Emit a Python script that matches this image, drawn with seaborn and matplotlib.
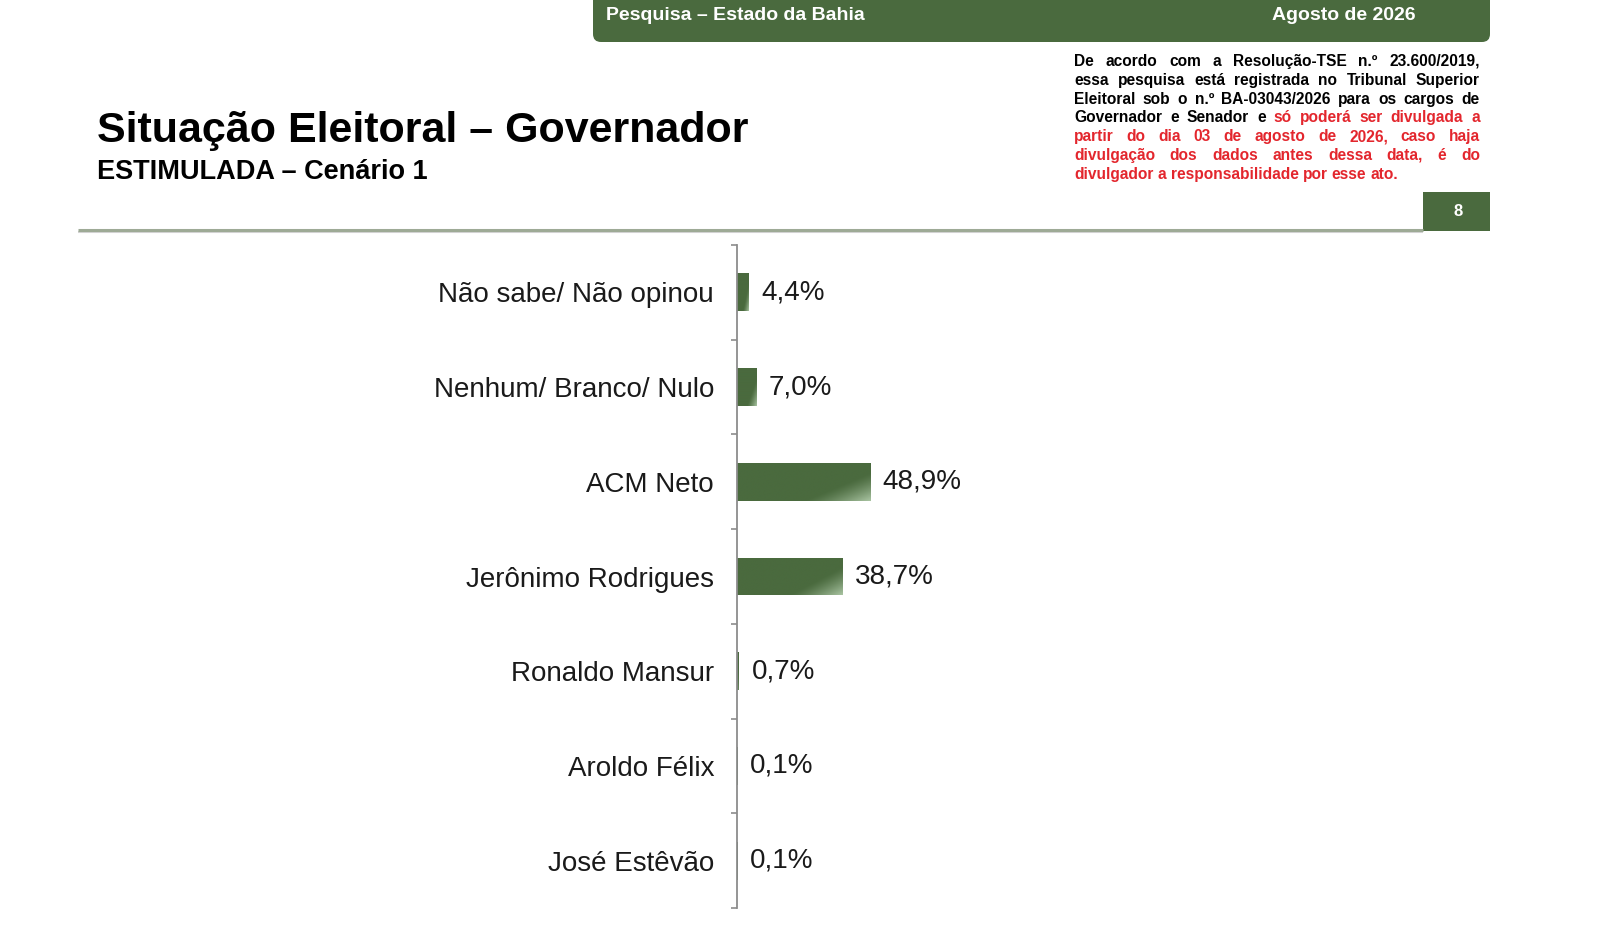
import numpy as np
import pandas as pd
import seaborn as sns
import matplotlib.pyplot as plt
from matplotlib.patches import FancyBboxPatch, Rectangle
from matplotlib.colors import LinearSegmentedColormap

# dados
categorias = ["Não sabe/ Não opinou", "Nenhum/ Branco/ Nulo", "ACM Neto",
              "Jerônimo Rodrigues", "Ronaldo Mansur", "Aroldo Félix", "José Estêvão"]
percentuais = [4.4, 7.0, 48.9, 38.7, 0.7, 0.1, 0.1]
rotulos = [f"{v:.1f}%".replace(".", ",") for v in percentuais]

titulo = "Situação Eleitoral – Governador"
subtitulo = "ESTIMULADA – Cenário 1"
cabecalho_esq = "Pesquisa – Estado da Bahia"
cabecalho_dir = "Agosto de 2026"
pagina = "8"
aviso_linhas = [
    "De acordo com a Resolução-TSE n.º 23.600/2019,",
    "essa pesquisa está registrada no Tribunal Superior",
    "Eleitoral sob o n.º BA-03043/2026 para os cargos de",
    "Governador e Senador e só poderá ser divulgada a",
    "partir do dia 03 de agosto de 2026, caso haja",
    "divulgação dos dados antes dessa data, é do",
    "divulgador a responsabilidade por esse ato.",
]
inicio_vermelho = 27  # indice da palavra "só"

VERDE = "#4a6a3e"
VERDE_CLARO = "#a9c4a2"
VERMELHO = "#e3262d"
TEXTO = "#1a1a1a"

sns.set_theme(style="white")
plt.rcParams["font.family"] = ["Liberation Sans", "DejaVu Sans"]

fig = plt.figure(figsize=(16, 9.43), dpi=100)
renderer = fig.canvas.get_renderer()

# camada de fundo em pixels
bg = fig.add_axes([0, 0, 1, 1])
bg.set_xlim(0, 1600)
bg.set_ylim(943, 0)
bg.axis("off")

# faixa do cabecalho
bg.add_patch(FancyBboxPatch((593, -20), 897, 62, boxstyle="round,pad=0,rounding_size=8",
                            fc=VERDE, ec="none"))
bg.text(606, 16, cabecalho_esq, color="white", fontsize=14, weight="bold", va="center")
bg.text(1272, 16, cabecalho_dir, color="white", fontsize=14, weight="bold", va="center")

# titulos
bg.text(97, 142, titulo, fontsize=31, weight="bold", color="black", va="baseline")
bg.text(97, 179, subtitulo, fontsize=19.5, weight="bold", color="black", va="baseline")

# linha horizontal e numero da pagina
bg.plot([78, 1423], [231.5, 231.5], color="#d4d4d4", lw=1.5, solid_capstyle="butt")
bg.plot([78, 1423], [229.5, 229.5], color="#9eaa96", lw=2.2, solid_capstyle="butt")
bg.add_patch(Rectangle((1423, 192), 67, 39, fc=VERDE, ec="none"))
bg.text(1458, 212, pagina, color="white", fontsize=12, weight="bold", ha="center", va="center")


# aviso justificado
def largura(txt, **kw):
    t = bg.text(0, 0, txt, **kw)
    w = t.get_window_extent(renderer).width
    t.remove()
    return w


kw_aviso = dict(fontsize=11.2, weight="bold")
x0, x1 = 1074, 1480
espaco = largura("a a", **kw_aviso) - 2 * largura("a", **kw_aviso)
k = 0
for i, linha in enumerate(aviso_linhas):
    palavras = linha.split()
    ws = [largura(p, **kw_aviso) for p in palavras]
    if i < len(aviso_linhas) - 1:
        gap = (x1 - x0 - sum(ws)) / (len(palavras) - 1)
    else:
        gap = espaco
    x = x0
    for p, w in zip(palavras, ws):
        cor = VERMELHO if k >= inicio_vermelho else "black"
        bg.text(x, 66 + i * 18.8, p, color=cor, va="baseline", **kw_aviso)
        x += w + gap
        k += 1

# grafico
ax = fig.add_axes([737 / 1600, 1 - 908 / 943, 272 / 1600, (908 - 245) / 943])
df = pd.DataFrame({"categoria": categorias, "percentual": percentuais})
sns.barplot(data=df, x="percentual", y="categoria", color=VERDE, width=0.4,
            saturation=1, ax=ax)
ax.set_xlim(0, 100)
ylim = ax.get_ylim()

# gradiente nas barras
cmap = LinearSegmentedColormap.from_list("g", [VERDE, VERDE_CLARO])
u = np.linspace(0, 1, 200)[None, :]
v = np.linspace(0, 1, 60)[:, None]
s = np.clip((0.6 * u + 0.4 * v - 0.7) / 0.3, 0, 1) ** 1.3
for patch in list(ax.patches):
    x, y, w, h = patch.get_x(), patch.get_y(), patch.get_width(), patch.get_height()
    if w <= 0:
        continue
    im = ax.imshow(s, cmap=cmap, vmin=0, vmax=1, extent=(x, x + w, y + h, y),
                   aspect="auto", interpolation="bilinear", zorder=patch.get_zorder() + 0.1)
    im.set_clip_path(patch)
ax.set_xlim(0, 100)
ax.set_ylim(ylim)

ax.bar_label(ax.containers[0], labels=rotulos, padding=9, fontsize=20, color=TEXTO)

ax.set_xlabel("")
ax.set_ylabel("")
ax.set_xticks([])
for lado in ["top", "right", "bottom"]:
    ax.spines[lado].set_visible(False)
ax.spines["left"].set_color("#8c8c8c")
ax.spines["left"].set_linewidth(1.3)
ax.set_yticks(np.arange(-0.5, len(categorias), 1), minor=True)
ax.tick_params(axis="y", which="major", length=0, pad=16.5, labelsize=20, labelcolor=TEXTO)
ax.tick_params(axis="y", which="minor", length=4.5, width=1.2, color="#8c8c8c", left=True)
ax.patch.set_alpha(0)

fig.savefig("out.png", dpi=100, facecolor="white")
